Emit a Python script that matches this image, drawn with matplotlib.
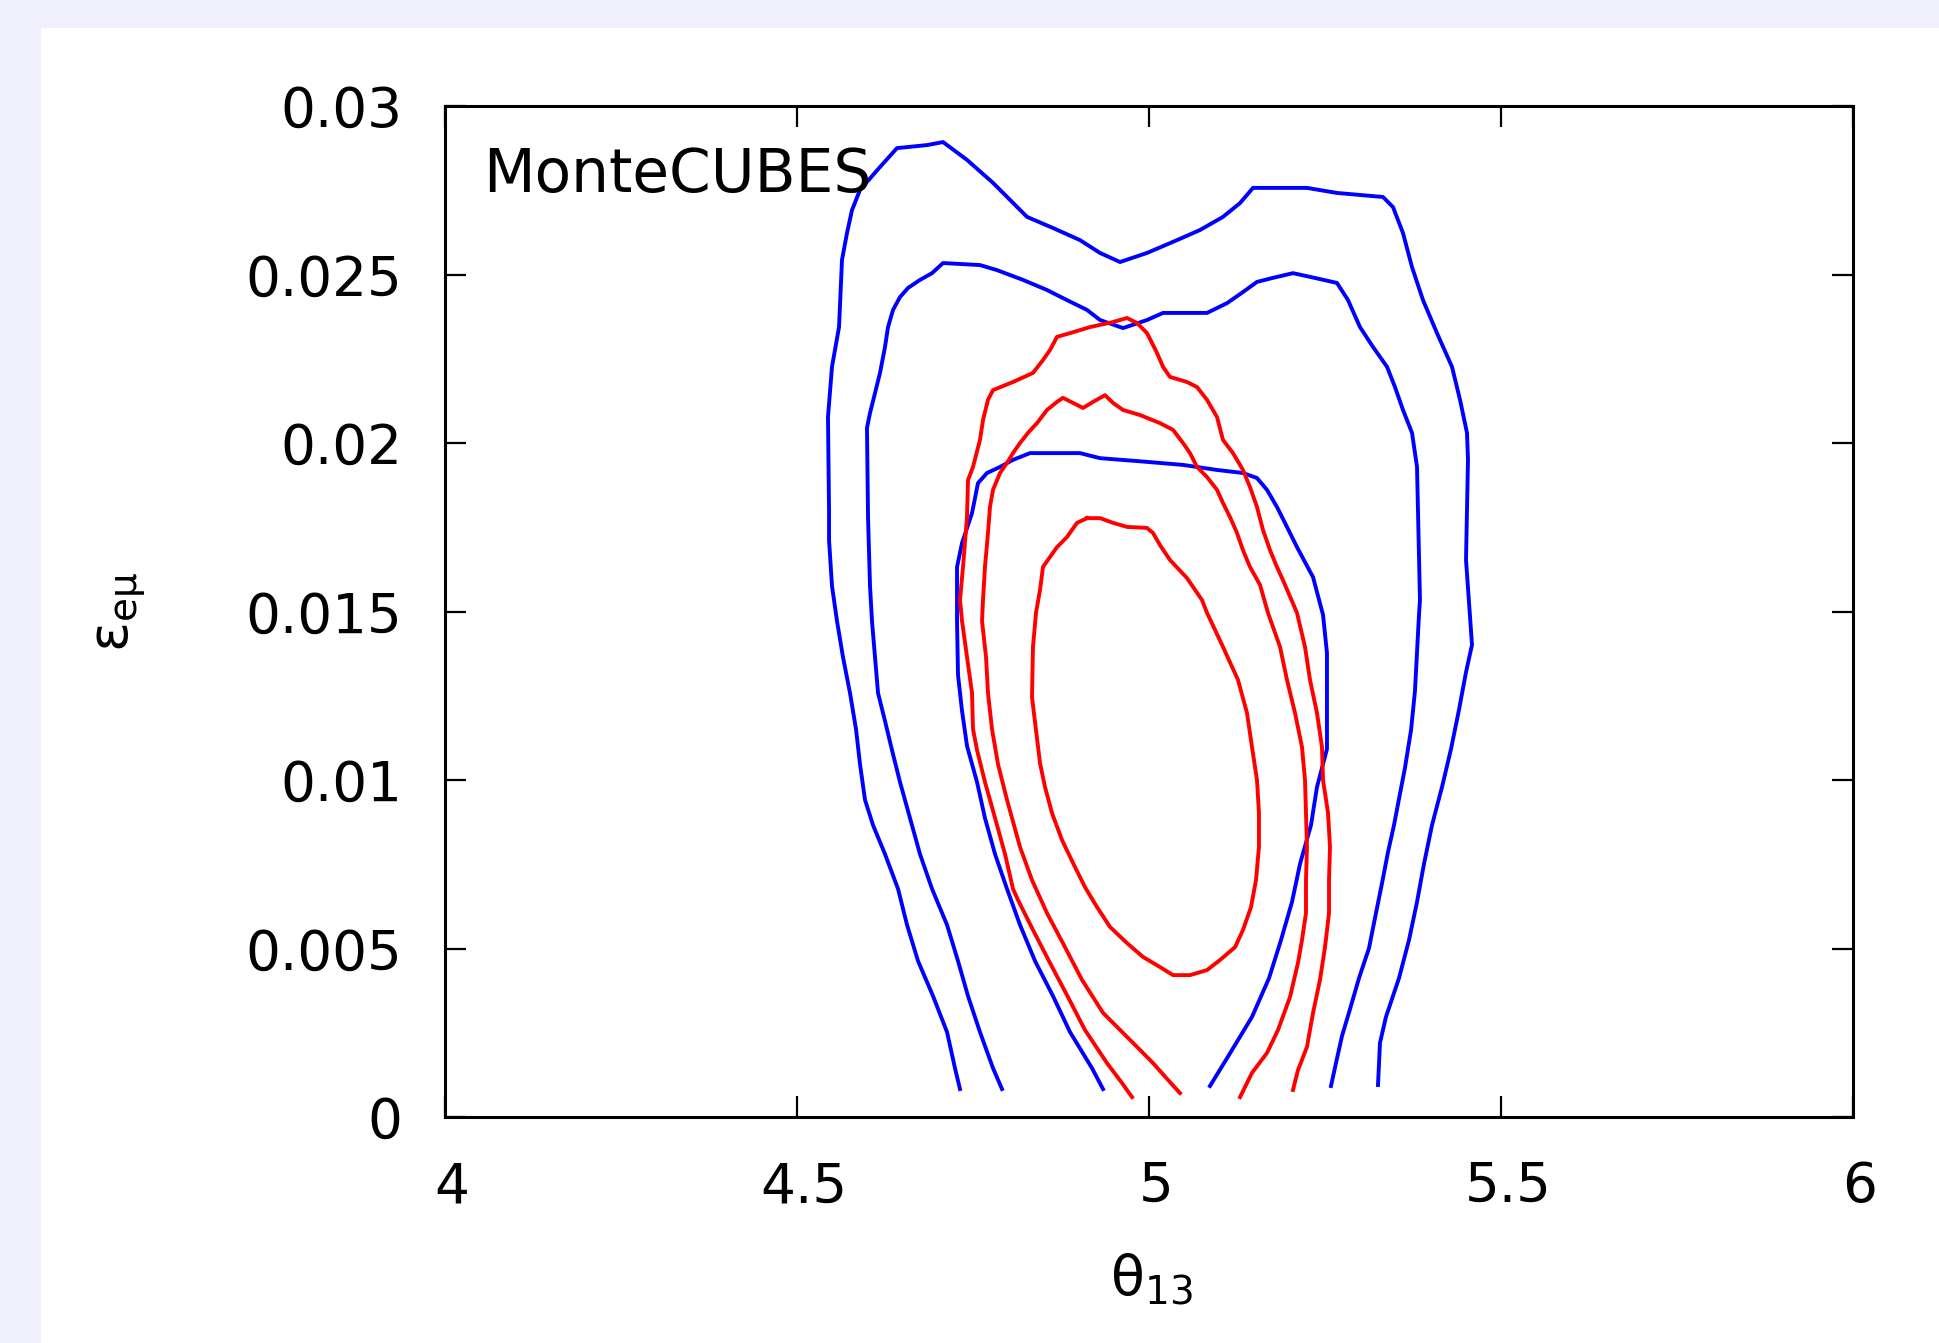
import numpy as np
import matplotlib.pyplot as plt
import matplotlib.transforms as mtransforms
from matplotlib.patches import Rectangle

# --- contour data (theta13, eps_emu) ---
# blue, outer
blue1_x = [4.7315, 4.7244, 4.7131, 4.6932, 4.6719, 4.6563, 4.6435, 4.6250, 4.6080, 4.5966,
           4.5895, 4.5838, 4.5753, 4.5653, 4.5568, 4.5497, 4.5455, 4.5455, 4.5440, 4.5497,
           4.5597, 4.5639, 4.5710, 4.5781, 4.5895, 4.6179, 4.6420, 4.6847, 4.7074, 4.7415,
           4.7784, 4.8267, 4.8636, 4.9020, 4.9304, 4.9588, 4.9972, 5.0398, 5.0724, 5.1051,
           5.1293, 5.1477, 5.2244, 5.2670, 5.3324, 5.3466, 5.3608, 5.3736, 5.3892, 5.4091,
           5.4304, 5.4418, 5.4517, 5.4531, 5.4503, 5.4588, 5.4503, 5.4403, 5.4290, 5.4162,
           5.4020, 5.3906, 5.3807, 5.3693, 5.3551, 5.3366, 5.3281, 5.3253]
blue1_y = [0.00083, 0.00145, 0.00252, 0.00359, 0.00463, 0.00570, 0.00677, 0.00780, 0.00866, 0.00941,
           0.01047, 0.01151, 0.01258, 0.01365, 0.01472, 0.01576, 0.01712, 0.01801, 0.02077, 0.02226,
           0.02344, 0.02543, 0.02623, 0.02691, 0.02751, 0.02819, 0.02875, 0.02884, 0.02893, 0.02840,
           0.02772, 0.02671, 0.02638, 0.02602, 0.02564, 0.02537, 0.02564, 0.02602, 0.02632, 0.02671,
           0.02712, 0.02757, 0.02757, 0.02742, 0.02730, 0.02700, 0.02623, 0.02522, 0.02424, 0.02326,
           0.02226, 0.02128, 0.02030, 0.01950, 0.01653, 0.01401, 0.01320, 0.01208, 0.01092, 0.00979,
           0.00866, 0.00751, 0.00638, 0.00525, 0.00412, 0.00297, 0.00220, 0.00095]

# blue, middle
blue2_x = [4.7912, 4.7784, 4.7599, 4.7429, 4.7287, 4.7131, 4.6918, 4.6747, 4.6605, 4.6463,
           4.6349, 4.6250, 4.6151, 4.6108, 4.6065, 4.6037, 4.6009, 4.5994, 4.6037, 4.6108,
           4.6179, 4.6250, 4.6293, 4.6364, 4.6463, 4.6577, 4.6747, 4.6918, 4.7074, 4.7599,
           4.7841, 4.8210, 4.8551, 4.8835, 4.9119, 4.9304, 4.9631, 4.9972, 5.0199, 5.0824,
           5.1108, 5.1335, 5.1534, 5.1761, 5.2045, 5.2287, 5.2670, 5.2827, 5.2997, 5.3182,
           5.3381, 5.3494, 5.3608, 5.3736, 5.3807, 5.3849, 5.3835, 5.3778, 5.3722, 5.3636,
           5.3551, 5.3480, 5.3395, 5.3310, 5.3224, 5.3125, 5.2983, 5.2855, 5.2741, 5.2656,
           5.2585]
blue2_y = [0.00083, 0.00145, 0.00252, 0.00359, 0.00463, 0.00570, 0.00677, 0.00780, 0.00887, 0.00994,
           0.01089, 0.01175, 0.01258, 0.01365, 0.01472, 0.01576, 0.01780, 0.02045, 0.02089, 0.02148,
           0.02208, 0.02285, 0.02344, 0.02395, 0.02433, 0.02460, 0.02484, 0.02504, 0.02534, 0.02528,
           0.02513, 0.02484, 0.02454, 0.02424, 0.02395, 0.02365, 0.02341, 0.02365, 0.02386, 0.02386,
           0.02415, 0.02448, 0.02478, 0.02490, 0.02504, 0.02493, 0.02475, 0.02424, 0.02344, 0.02285,
           0.02226, 0.02166, 0.02098, 0.02030, 0.01929, 0.01534, 0.01490, 0.01264, 0.01148, 0.01036,
           0.00944, 0.00866, 0.00786, 0.00694, 0.00605, 0.00501, 0.00412, 0.00320, 0.00240, 0.00160,
           0.00092]

# blue, inner
blue3_x = [4.9347, 4.9190, 4.8878, 4.8636, 4.8381, 4.8168, 4.7983, 4.7813, 4.7670, 4.7557,
           4.7415, 4.7344, 4.7287, 4.7273, 4.7273, 4.7273, 4.7344, 4.7486, 4.7571, 4.7699,
           4.7884, 4.8068, 4.8310, 4.9020, 4.9304, 4.9972, 5.0483, 5.0966, 5.1335, 5.1534,
           5.1676, 5.1818, 5.1960, 5.2102, 5.2330, 5.2472, 5.2528, 5.2528, 5.2386, 5.2301,
           5.2145, 5.2031, 5.1875, 5.1705, 5.1463, 5.1136, 5.0866]
blue3_y = [0.00083, 0.00145, 0.00252, 0.00359, 0.00463, 0.00570, 0.00677, 0.00780, 0.00887, 0.00994,
           0.01101, 0.01205, 0.01312, 0.01472, 0.01576, 0.01632, 0.01703, 0.01792, 0.01881, 0.01911,
           0.01929, 0.01950, 0.01970, 0.01970, 0.01955, 0.01944, 0.01935, 0.01920, 0.01911, 0.01896,
           0.01861, 0.01810, 0.01751, 0.01691, 0.01602, 0.01490, 0.01377, 0.01092, 0.00979, 0.00866,
           0.00751, 0.00638, 0.00525, 0.00412, 0.00297, 0.00184, 0.00092]

# red, outer
red1_x = [4.9759, 4.9616, 4.9403, 4.9091, 4.8849, 4.8594, 4.8352, 4.8139, 4.8068, 4.7955,
          4.7813, 4.7670, 4.7557, 4.7500, 4.7486, 4.7415, 4.7344, 4.7315, 4.7358, 4.7415,
          4.7429, 4.7500, 4.7599, 4.7642, 4.7713, 4.7784, 4.8068, 4.8352, 4.8494, 4.8594,
          4.8693, 4.8878, 4.9162, 4.9489, 4.9688, 4.9830, 4.9972, 5.0114, 5.0199, 5.0298,
          5.0540, 5.0682, 5.0824, 5.0966, 5.1051, 5.1193, 5.1335, 5.1435, 5.1534, 5.1619,
          5.1719, 5.1818, 5.1903, 5.2102, 5.2216, 5.2287, 5.2386, 5.2457, 5.2472, 5.2543,
          5.2571, 5.2557, 5.2557, 5.2500, 5.2429, 5.2330, 5.2244, 5.2116, 5.2045]
red1_y = [0.00059, 0.00101, 0.00160, 0.00258, 0.00356, 0.00457, 0.00555, 0.00644, 0.00677, 0.00780,
          0.00887, 0.00994, 0.01089, 0.01151, 0.01258, 0.01365, 0.01472, 0.01534, 0.01632, 0.01780,
          0.01890, 0.01929, 0.02009, 0.02068, 0.02128, 0.02157, 0.02181, 0.02208, 0.02246, 0.02276,
          0.02315, 0.02326, 0.02344, 0.02359, 0.02371, 0.02356, 0.02326, 0.02267, 0.02226, 0.02196,
          0.02181, 0.02166, 0.02128, 0.02077, 0.02009, 0.01970, 0.01920, 0.01869, 0.01810, 0.01742,
          0.01682, 0.01632, 0.01593, 0.01496, 0.01395, 0.01297, 0.01199, 0.01098, 0.01000, 0.00902,
          0.00801, 0.00703, 0.00605, 0.00504, 0.00407, 0.00309, 0.00208, 0.00139, 0.00080]

# red, middle
red2_x = [5.0440, 5.0270, 5.0057, 4.9830, 4.9347, 4.9048, 4.8807, 4.8551, 4.8338, 4.8168,
          4.7983, 4.7855, 4.7770, 4.7713, 4.7685, 4.7628, 4.7642, 4.7670, 4.7713, 4.7741,
          4.7784, 4.7884, 4.7983, 4.8068, 4.8168, 4.8281, 4.8409, 4.8551, 4.8693, 4.8778,
          4.8920, 4.9063, 4.9205, 4.9375, 4.9489, 4.9631, 4.9872, 5.0156, 5.0341, 5.0483,
          5.0582, 5.0682, 5.0824, 5.0966, 5.1051, 5.1151, 5.1250, 5.1335, 5.1435, 5.1577,
          5.1690, 5.1861, 5.1960, 5.2074, 5.2173, 5.2216, 5.2230, 5.2244, 5.2230, 5.2230,
          5.2173, 5.2116, 5.2003, 5.1832, 5.1676, 5.1463, 5.1293]
red2_y = [0.00071, 0.00110, 0.00160, 0.00208, 0.00309, 0.00407, 0.00504, 0.00605, 0.00703, 0.00801,
          0.00941, 0.01047, 0.01151, 0.01258, 0.01365, 0.01472, 0.01534, 0.01632, 0.01733, 0.01810,
          0.01861, 0.01911, 0.01941, 0.01970, 0.02000, 0.02030, 0.02059, 0.02098, 0.02122, 0.02134,
          0.02119, 0.02104, 0.02122, 0.02142, 0.02119, 0.02098, 0.02083, 0.02059, 0.02039, 0.02000,
          0.01970, 0.01929, 0.01899, 0.01861, 0.01822, 0.01780, 0.01733, 0.01682, 0.01632, 0.01579,
          0.01496, 0.01395, 0.01297, 0.01199, 0.01098, 0.01000, 0.00902, 0.00801, 0.00703, 0.00605,
          0.00525, 0.00457, 0.00356, 0.00258, 0.00190, 0.00131, 0.00059]

# red, inner (closed)
red3_x = [4.9119, 4.9304, 4.9489, 4.9688, 4.9972, 5.0057, 5.0156, 5.0298, 5.0540, 5.0753,
          5.0824, 5.1051, 5.1264, 5.1392, 5.1463, 5.1534, 5.1562, 5.1562, 5.1520, 5.1449,
          5.1335, 5.1222, 5.1009, 5.0824, 5.0582, 5.0341, 5.0156, 4.9915, 4.9688, 4.9446,
          4.9261, 4.9091, 4.8920, 4.8764, 4.8622, 4.8523, 4.8452, 4.8395, 4.8338, 4.8352,
          4.8395, 4.8452, 4.8494, 4.8594, 4.8693, 4.8835, 4.8977]
red3_y = [0.01777, 0.01777, 0.01763, 0.01751, 0.01748, 0.01733, 0.01697, 0.01653, 0.01599, 0.01534,
          0.01496, 0.01395, 0.01297, 0.01199, 0.01098, 0.01000, 0.00902, 0.00801, 0.00703, 0.00623,
          0.00555, 0.00504, 0.00466, 0.00436, 0.00421, 0.00421, 0.00445, 0.00475, 0.00516, 0.00564,
          0.00623, 0.00682, 0.00754, 0.00822, 0.00902, 0.00979, 0.01050, 0.01148, 0.01246, 0.01395,
          0.01496, 0.01564, 0.01632, 0.01662, 0.01691, 0.01721, 0.01763]

x_ticks = [4, 4.5, 5, 5.5, 6]
x_tick_labels = ['4', '4.5', '5', '5.5', '6']
y_ticks = [0, 0.005, 0.01, 0.015, 0.02, 0.025, 0.03]
y_tick_labels = ['0', '0.005', '0.01', '0.015', '0.02', '0.025', '0.03']

W, H = 1939, 1343
fig = plt.figure(figsize=(W / 100, H / 100), dpi=100, facecolor='#eff0fc')
fig.patches.append(Rectangle((41 / W, 0), 1, 1 - 28 / H, transform=fig.transFigure,
                             facecolor='white', edgecolor='none', zorder=-10))

ax = fig.add_axes([445 / W, 226 / H, 1408 / W, 1011 / H])
ax.set_zorder(1)

lw = 2.8
ax.plot(blue1_x, blue1_y, color='#0000ff', lw=lw)
ax.plot(blue2_x, blue2_y, color='#0000ff', lw=lw)
ax.plot(blue3_x, blue3_y, color='#0000ff', lw=lw)
ax.plot(red1_x, red1_y, color='#ff0000', lw=lw)
ax.plot(red2_x, red2_y, color='#ff0000', lw=lw)
ax.plot(red3_x + red3_x[:1], red3_y + red3_y[:1], color='#ff0000', lw=lw)

ax.set_xlim(4, 6)
ax.set_ylim(0, 0.03)
ax.set_xticks(x_ticks)
ax.set_xticklabels(x_tick_labels)
ax.set_yticks(y_ticks)
ax.set_yticklabels(y_tick_labels)
ax.tick_params(direction='in', length=15, width=1.6, top=True, right=True,
               labelsize=39.5, pad=31, colors='black')
for s in ax.spines.values():
    s.set_linewidth(2.2)

# gnuplot puts the x labels a bit to the right of the ticks
shift = mtransforms.ScaledTranslation(7 / 100, 0, fig.dpi_scale_trans)
for lab in ax.get_xticklabels():
    lab.set_transform(lab.get_transform() + shift)

ax.text(0.027, 0.915, 'MonteCUBES', transform=ax.transAxes, fontsize=43,
        ha='left', va='baseline')

fig.text(1151 / W, 1 - 1280 / H, r'$\mathregular{θ_{13}}$', fontsize=40,
         ha='center', va='center')
fig.text(120 / W, 1 - 612 / H, r'$\mathregular{ε_{eμ}}$', fontsize=40,
         ha='center', va='center', rotation=90)

plt.savefig('out.png', dpi=100, facecolor=fig.get_facecolor())
